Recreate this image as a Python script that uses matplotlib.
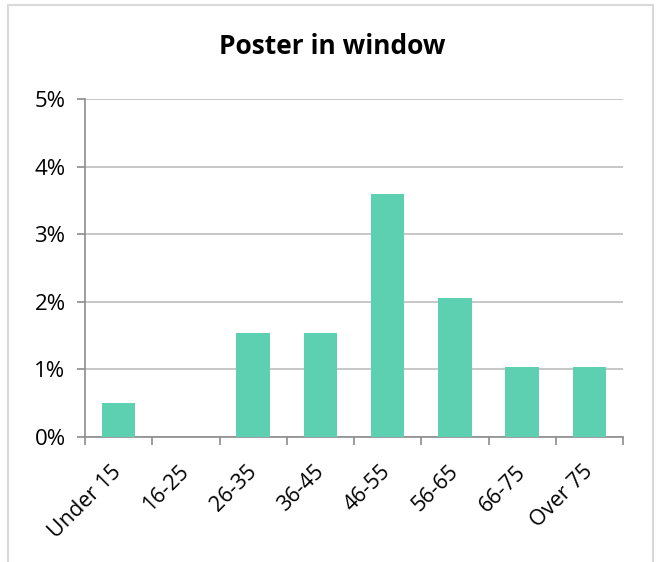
import numpy as np
import matplotlib.pyplot as plt
from matplotlib.patches import Rectangle
from matplotlib.ticker import FuncFormatter, FixedLocator

ages = ['Under 15', '16-25', '26-35', '36-45', '46-55', '56-65', '66-75', 'Over 75']
share = [0.51, 0.0, 1.54, 1.54, 3.59, 2.05, 1.03, 1.03]

plt.rcParams['font.family'] = ['Open Sans', 'DejaVu Sans']

fig = plt.figure(figsize=(6.59, 5.62), dpi=100)
ax = fig.add_axes([85 / 659, 1 - 437 / 562, (623 - 85) / 659, (437 - 99) / 562])

x = np.arange(len(ages))
ax.bar(x, share, width=0.5, color='#5ED0B2', zorder=3)

ax.set_xlim(-0.5, len(ages) - 0.5)
ax.set_ylim(0, 5)
ax.set_yticks(np.arange(0, 6, 1))
ax.yaxis.set_major_formatter(FuncFormatter(lambda v, p: '%d%%' % v))
ax.grid(axis='y', color='#bdbdbd', linewidth=1.2, zorder=0)

# category labels sit between the boundary ticks
ax.xaxis.set_major_locator(FixedLocator(np.arange(-0.5, len(ages), 1)))
ax.xaxis.set_major_formatter(FuncFormatter(lambda v, p: ''))
ax.set_xticks(x, minor=True)
ax.set_xticklabels(ages, minor=True, rotation=45, ha='right', va='center',
                   rotation_mode='anchor', fontsize=15.5)
ax.tick_params(axis='x', which='minor', length=0, pad=23)
ax.tick_params(axis='x', which='major', length=6, width=1.2, color='#8c8c8c')
ax.tick_params(axis='y', length=6, width=1.2, color='#8c8c8c', labelsize=16, pad=8)

for s in ['top', 'right']:
    ax.spines[s].set_visible(False)
for s in ['left', 'bottom']:
    ax.spines[s].set_color('#8c8c8c')
    ax.spines[s].set_linewidth(1.2)

fig.text(332 / 659, 1 - 47 / 562, 'Poster in window', ha='center', va='center',
         fontsize=19, fontweight='bold')

# light frame around the chart area
fig.patches.append(Rectangle((8 / 659, -0.05), (653 - 8) / 659, 1.05 - 5 / 562,
                             transform=fig.transFigure, fill=False,
                             edgecolor='#d9d9d9', linewidth=1.5))

fig.savefig('out.png', dpi=100)
